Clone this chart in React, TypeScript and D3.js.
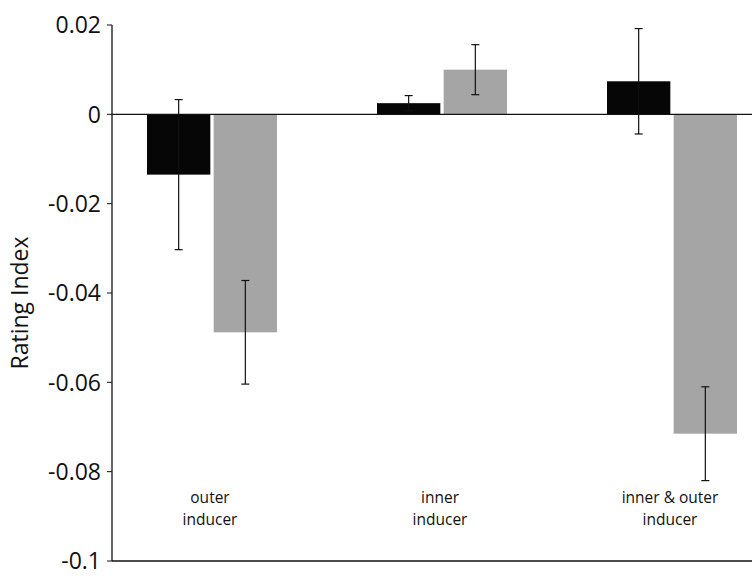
import React from "react";
import * as d3 from "d3";

// Category groups and the two conditions plotted in each
const categories = ["outer\ninducer", "inner\ninducer", "inner & outer\ninducer"];
const seriesKeys = ["dark", "light"];
const darkMeans = [-0.0135, 0.0025, 0.0074];
const darkErrors = [0.0168, 0.0017, 0.0118];
const lightMeans = [-0.0488, 0.0100, -0.0715];
const lightErrors = [0.0116, 0.0056, 0.0105];
const tickValues = [0.02, 0, -0.02, -0.04, -0.06, -0.08, -0.1];
const tickLabels = ["0.02", "0", "-0.02", "-0.04", "-0.06", "-0.08", "-0.1"];

const W = 752;
const H = 578;
const FONT = "'Open Sans', 'DejaVu Sans', sans-serif";

export default function App() {
  const axisX = 112;
  const y = d3.scaleLinear().domain([-0.1, 0.02]).range([561, 25]);
  const x = d3.scaleBand<string>().domain(categories).range([97, 787]).padding(0);
  const sub = d3.scaleBand<string>().domain(seriesKeys).range([-65, 65]).paddingInner(0.05);

  const seriesMeans: Record<string, number[]> = { dark: darkMeans, light: lightMeans };
  const seriesErrs: Record<string, number[]> = { dark: darkErrors, light: lightErrors };
  const seriesFill: Record<string, string> = { dark: "#060606", light: "#a5a5a5" };

  const capHalf = 4;

  return (
    <svg
      width={W}
      height={H}
      style={{ position: "absolute", left: 0, top: 0, background: "#fff" }}
      fontFamily={FONT}
    >
      {/* bars */}
      {categories.map((c, i) => {
        const cx = (x(c) ?? 0) + x.bandwidth() / 2;
        return (
          <g key={c}>
            {seriesKeys.map((k) => {
              const v = seriesMeans[k][i];
              const x0 = cx + (sub(k) ?? 0);
              return (
                <rect
                  key={k}
                  x={x0}
                  y={Math.min(y(v), y(0))}
                  width={sub.bandwidth()}
                  height={Math.abs(y(v) - y(0))}
                  fill={seriesFill[k]}
                />
              );
            })}
          </g>
        );
      })}

      {/* zero line */}
      <line x1={axisX} x2={W} y1={y(0)} y2={y(0)} stroke="#111" strokeWidth={1.3} />

      {/* error bars */}
      {categories.map((c, i) => {
        const cx = (x(c) ?? 0) + x.bandwidth() / 2;
        return (
          <g key={c}>
            {seriesKeys.map((k) => {
              const v = seriesMeans[k][i];
              const e = seriesErrs[k][i];
              const ex = cx + (sub(k) ?? 0) + sub.bandwidth() / 2;
              const yt = y(v + e);
              const yb = y(v - e);
              return (
                <g key={k} stroke="#111" strokeWidth={1.2}>
                  <line x1={ex} x2={ex} y1={yt} y2={yb} />
                  <line x1={ex - capHalf} x2={ex + capHalf} y1={yt} y2={yt} />
                  <line x1={ex - capHalf} x2={ex + capHalf} y1={yb} y2={yb} />
                </g>
              );
            })}
          </g>
        );
      })}

      {/* y axis */}
      <line x1={axisX} x2={axisX} y1={y(0.02)} y2={y(-0.1)} stroke="#111" strokeWidth={1.3} />
      {tickValues.map((t, i) => (
        <g key={t}>
          <line x1={axisX - 5} x2={axisX} y1={y(t)} y2={y(t)} stroke="#111" strokeWidth={1} />
          <text
            x={axisX - 11}
            y={y(t)}
            dy="0.36em"
            textAnchor="end"
            fontSize={23}
            fill="#111"
          >
            {tickLabels[i]}
          </text>
        </g>
      ))}

      {/* bottom axis */}
      <line x1={axisX} x2={W} y1={y(-0.1)} y2={y(-0.1)} stroke="#111" strokeWidth={1.6} />

      {/* y axis title */}
      <text
        transform={`translate(28, ${303}) rotate(-90)`}
        textAnchor="middle"
        fontSize={23}
        fill="#111"
      >
        Rating Index
      </text>

      {/* category labels */}
      {categories.map((c) => {
        const cx = (x(c) ?? 0) + x.bandwidth() / 2;
        const lines = c.split("\n");
        return (
          <text key={c} textAnchor="middle" fontSize={15.5} fill="#111">
            {lines.map((ln, j) => (
              <tspan key={j} x={cx - 2} y={503 + j * 22}>
                {ln}
              </tspan>
            ))}
          </text>
        );
      })}
    </svg>
  );
}
